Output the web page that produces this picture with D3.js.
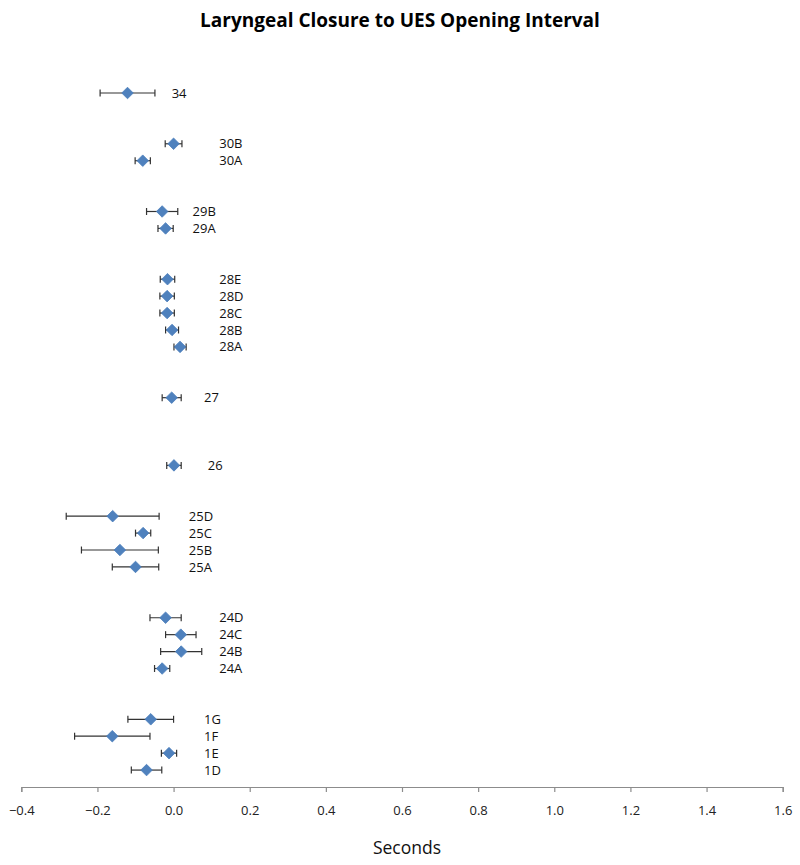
<!DOCTYPE html>
<html><head><meta charset="utf-8">
<script src="https://cdn.jsdelivr.net/npm/d3@7"></script>
<style>body{margin:0;background:#fff}</style>
</head><body>
<svg id="c" width="800" height="865"></svg>
<script>
const categories = ["1D","1E","1F","1G","24A","24B","24C","24D","25A","25B","25C","25D","26","27","28A","28B","28C","28D","28E","29A","29B","30A","30B","34"];
const rowPos =     [1,2,3,4,7,8,9,10,13,14,15,16,19,23,26,27,28,29,30,33,34,37,38,41];
const means =      [-0.071,-0.012,-0.161,-0.060,-0.030,0.020,0.019,-0.021,-0.100,-0.141,-0.080,-0.160,0.001,-0.005,0.017,-0.004,-0.017,-0.017,-0.016,-0.021,-0.030,-0.081,0.000,-0.121];
const errs =       [0.040,0.020,0.099,0.060,0.020,0.054,0.040,0.041,0.061,0.101,0.020,0.122,0.019,0.025,0.016,0.017,0.019,0.019,0.019,0.020,0.041,0.020,0.022,0.072];
const labelAt =    [0.08,0.08,0.08,0.08,0.12,0.12,0.12,0.12,0.04,0.04,0.04,0.04,0.09,0.08,0.12,0.12,0.12,0.12,0.12,0.05,0.05,0.12,0.12,-0.005];
const xTicks = [-0.4,-0.2,0.0,0.2,0.4,0.6,0.8,1.0,1.2,1.4,1.6];
const titleText = "Laryngeal Closure to UES Opening Interval";
const xTitle = "Seconds";

const svg = d3.select("#c");
const x = d3.scaleLinear().domain([-0.4,1.6]).range([21.3,782.7]);
const y = d3.scaleLinear().domain([0,41]).range([787,93]);
const font = "'Open Sans', 'Liberation Sans', sans-serif";

svg.append("text").attr("x",400).attr("y",27).attr("text-anchor","middle")
  .attr("font-family",font).attr("font-weight","bold").attr("font-size",19).attr("fill","#000").text(titleText);

const ax = svg.append("g").attr("transform","translate(0,787)")
  .call(d3.axisBottom(x).tickValues(xTicks).tickFormat(d3.format(".1f")).tickSize(5).tickPadding(14));
ax.select(".domain").attr("stroke","#8c8c8c").attr("stroke-width",1.2);
ax.selectAll(".tick line").attr("stroke","#8c8c8c").attr("stroke-width",1.2);
ax.selectAll(".tick text").attr("font-family",font).attr("font-size",13).attr("fill","#222");

svg.append("text").attr("x",407).attr("y",854).attr("text-anchor","middle")
  .attr("font-family",font).attr("font-size",17.5).attr("fill","#111").text(xTitle);

const data = categories.map((c,i)=>({c,pos:rowPos[i],m:means[i],e:errs[i],lx:labelAt[i]}));
const g = svg.append("g");
const eb = g.selectAll(".eb").data(data).enter().append("g");
eb.append("line").attr("x1",d=>x(d.m-d.e)).attr("x2",d=>x(d.m+d.e)).attr("y1",d=>y(d.pos)).attr("y2",d=>y(d.pos))
  .attr("stroke","#333").attr("stroke-width",1.2);
eb.append("line").attr("x1",d=>x(d.m-d.e)).attr("x2",d=>x(d.m-d.e)).attr("y1",d=>y(d.pos)-3.5).attr("y2",d=>y(d.pos)+3.5)
  .attr("stroke","#333").attr("stroke-width",1.2);
eb.append("line").attr("x1",d=>x(d.m+d.e)).attr("x2",d=>x(d.m+d.e)).attr("y1",d=>y(d.pos)-3.5).attr("y2",d=>y(d.pos)+3.5)
  .attr("stroke","#333").attr("stroke-width",1.2);

const sym = d3.symbol().type(d3.symbolDiamond2).size(85);
g.selectAll(".pt").data(data).enter().append("path")
  .attr("d",sym).attr("transform",d=>`translate(${x(d.m)},${y(d.pos)})`)
  .attr("fill","#4F81BD").attr("stroke","#4A7EBB").attr("stroke-width",0.8);

g.selectAll(".lb").data(data).enter().append("text")
  .attr("x",d=>x(d.lx)).attr("y",d=>y(d.pos)).attr("dy","0.35em")
  .attr("font-family",font).attr("font-size",13).attr("fill","#111").text(d=>d.c);
</script>
</body></html>
